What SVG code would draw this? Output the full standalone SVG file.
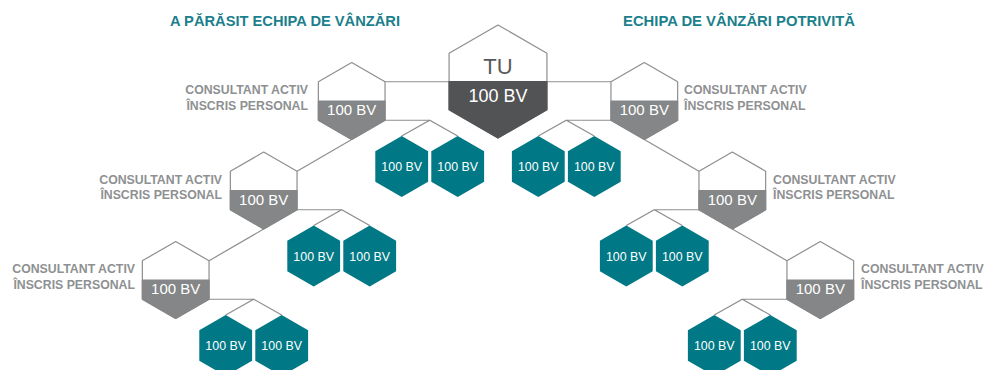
<svg xmlns="http://www.w3.org/2000/svg" xmlns:xlink="http://www.w3.org/1999/xlink" width="985" height="370" viewBox="0 0 985 370">
  <style>
    .head { font-family: "Liberation Sans", Arial, sans-serif; font-weight: bold; font-size: 15px; fill: #1b7f8c; }
    .lbl { font-family: "Liberation Sans", Arial, sans-serif; font-weight: bold; font-size: 12.3px; fill: #8e9092; }
    .bv { font-family: "Liberation Sans", Arial, sans-serif; fill: #ffffff; text-anchor: middle; }
    .bv-g { font-size: 15px; }
    .bv-t { font-size: 12.4px; }
    .conn { fill: none; stroke: #8d8e8f; stroke-width: 1.2; }
    .outline { fill: #ffffff; stroke: #8d8e8f; stroke-width: 1.2; stroke-linejoin: round; }
    .gray-band { fill: #848687; stroke: #848687; stroke-width: 1.2; stroke-linejoin: round; }
    .dark-band { fill: #525355; stroke: #525355; stroke-width: 1.2; stroke-linejoin: round; }
    .teal { fill: #007886; }
  </style>
  <defs>
    <!-- consultant hexagon: white top half, grey bottom half (r = 38.5) -->
    <g id="grayHex">
      <polygon class="outline" points="0,-38.5 33.34,-19.25 33.34,19.25 0,38.5 -33.34,19.25 -33.34,-19.25"/>
      <polygon class="gray-band" points="-33.34,0 33.34,0 33.34,19.25 0,38.5 -33.34,19.25"/>
    </g>
    <!-- volume hexagon (r = 30.5) -->
    <polygon id="tealHex" class="teal" points="0,-30.5 26.41,-15.25 26.41,15.25 0,30.5 -26.41,15.25 -26.41,-15.25"/>
  </defs>

  <!-- section headings -->
  <text class="head" x="170" y="26" textLength="230" lengthAdjust="spacingAndGlyphs">A PĂRĂSIT ECHIPA DE VÂNZĂRI</text>
  <text class="head" x="623" y="26" textLength="232" lengthAdjust="spacingAndGlyphs">ECHIPA DE VÂNZĂRI POTRIVITĂ</text>

  <!-- connectors -->
  <g id="connectors" class="conn">
    <path d="M384.04,81.75 H449.07"/>
    <path d="M546.93,81.75 H610.96"/>
    <!-- left chain -->
    <path d="M351.7,139.5 L297.04,171.25"/>
    <path d="M263.7,229 L209.04,260.75"/>
    <path d="M385.04,120.25 H429.7 M401.7,136 L429.7,120.25 L457.7,136"/>
    <path d="M297.04,209.75 H341.7 M313.7,225.5 L341.7,209.75 L369.7,225.5"/>
    <path d="M209.04,299.25 H253.7 M225.7,315 L253.7,299.25 L281.7,315"/>
    <!-- right chain -->
    <path d="M644.3,139.5 L698.96,171.25"/>
    <path d="M732.3,229 L786.96,260.75"/>
    <path d="M610.96,120.25 H566.3 M538.3,136 L566.3,120.25 L594.3,136"/>
    <path d="M698.96,209.75 H654.3 M626.3,225.5 L654.3,209.75 L682.3,225.5"/>
    <path d="M786.96,299.25 H742.3 M714.3,315 L742.3,299.25 L770.3,315"/>
  </g>

  <!-- top node -->
  <g id="tu" transform="translate(498,81.5)">
    <polygon class="outline" points="0,-56.5 48.93,-28.25 48.93,28.25 0,56.5 -48.93,28.25 -48.93,-28.25"/>
    <polygon class="dark-band" points="-48.93,0 48.93,0 48.93,28.25 0,56.5 -48.93,28.25"/>
    <text x="0" y="-7.2" text-anchor="middle" font-family="Liberation Sans, Arial, sans-serif" font-size="22" fill="#58595b">TU</text>
    <text class="bv" x="0" y="20.2" font-size="18">100 BV</text>
  </g>

  <!-- left consultants -->
  <g id="consultant-l1">
    <use xlink:href="#grayHex" transform="translate(351.7,101)"/>
    <text class="bv bv-g" x="351.7" y="115">100 BV</text>
    <text class="lbl" x="308" y="94" text-anchor="end">CONSULTANT ACTIV</text>
    <text class="lbl" x="308" y="109.5" text-anchor="end">ÎNSCRIS PERSONAL</text>
  </g>
  <g id="consultant-l2">
    <use xlink:href="#grayHex" transform="translate(263.7,190.5)"/>
    <text class="bv bv-g" x="263.7" y="204.5">100 BV</text>
    <text class="lbl" x="222" y="183.5" text-anchor="end">CONSULTANT ACTIV</text>
    <text class="lbl" x="222" y="199" text-anchor="end">ÎNSCRIS PERSONAL</text>
  </g>
  <g id="consultant-l3">
    <use xlink:href="#grayHex" transform="translate(175.7,280)"/>
    <text class="bv bv-g" x="175.7" y="294">100 BV</text>
    <text class="lbl" x="135" y="273" text-anchor="end">CONSULTANT ACTIV</text>
    <text class="lbl" x="135" y="288.5" text-anchor="end">ÎNSCRIS PERSONAL</text>
  </g>

  <!-- right consultants -->
  <g id="consultant-r1">
    <use xlink:href="#grayHex" transform="translate(644.3,101)"/>
    <text class="bv bv-g" x="644.3" y="115">100 BV</text>
    <text class="lbl" x="684" y="94">CONSULTANT ACTIV</text>
    <text class="lbl" x="684" y="109.5">ÎNSCRIS PERSONAL</text>
  </g>
  <g id="consultant-r2">
    <use xlink:href="#grayHex" transform="translate(732.3,190.5)"/>
    <text class="bv bv-g" x="732.3" y="204.5">100 BV</text>
    <text class="lbl" x="773" y="183.5">CONSULTANT ACTIV</text>
    <text class="lbl" x="773" y="199">ÎNSCRIS PERSONAL</text>
  </g>
  <g id="consultant-r3">
    <use xlink:href="#grayHex" transform="translate(820.3,280)"/>
    <text class="bv bv-g" x="820.3" y="294">100 BV</text>
    <text class="lbl" x="861" y="273">CONSULTANT ACTIV</text>
    <text class="lbl" x="861" y="288.5">ÎNSCRIS PERSONAL</text>
  </g>

  <!-- volume nodes, left -->
  <g id="vol-l1a"><use xlink:href="#tealHex" x="401.7" y="166.5"/><text class="bv bv-t" x="401.7" y="171">100 BV</text></g>
  <g id="vol-l1b"><use xlink:href="#tealHex" x="457.7" y="166.5"/><text class="bv bv-t" x="457.7" y="171">100 BV</text></g>
  <g id="vol-l2a"><use xlink:href="#tealHex" x="313.7" y="256"/><text class="bv bv-t" x="313.7" y="260.5">100 BV</text></g>
  <g id="vol-l2b"><use xlink:href="#tealHex" x="369.7" y="256"/><text class="bv bv-t" x="369.7" y="260.5">100 BV</text></g>
  <g id="vol-l3a"><use xlink:href="#tealHex" x="225.7" y="345.5"/><text class="bv bv-t" x="225.7" y="350">100 BV</text></g>
  <g id="vol-l3b"><use xlink:href="#tealHex" x="281.7" y="345.5"/><text class="bv bv-t" x="281.7" y="350">100 BV</text></g>

  <!-- volume nodes, right -->
  <g id="vol-r1a"><use xlink:href="#tealHex" x="538.3" y="166.5"/><text class="bv bv-t" x="538.3" y="171">100 BV</text></g>
  <g id="vol-r1b"><use xlink:href="#tealHex" x="594.3" y="166.5"/><text class="bv bv-t" x="594.3" y="171">100 BV</text></g>
  <g id="vol-r2a"><use xlink:href="#tealHex" x="626.3" y="256"/><text class="bv bv-t" x="626.3" y="260.5">100 BV</text></g>
  <g id="vol-r2b"><use xlink:href="#tealHex" x="682.3" y="256"/><text class="bv bv-t" x="682.3" y="260.5">100 BV</text></g>
  <g id="vol-r3a"><use xlink:href="#tealHex" x="714.3" y="345.5"/><text class="bv bv-t" x="714.3" y="350">100 BV</text></g>
  <g id="vol-r3b"><use xlink:href="#tealHex" x="770.3" y="345.5"/><text class="bv bv-t" x="770.3" y="350">100 BV</text></g>
</svg>
